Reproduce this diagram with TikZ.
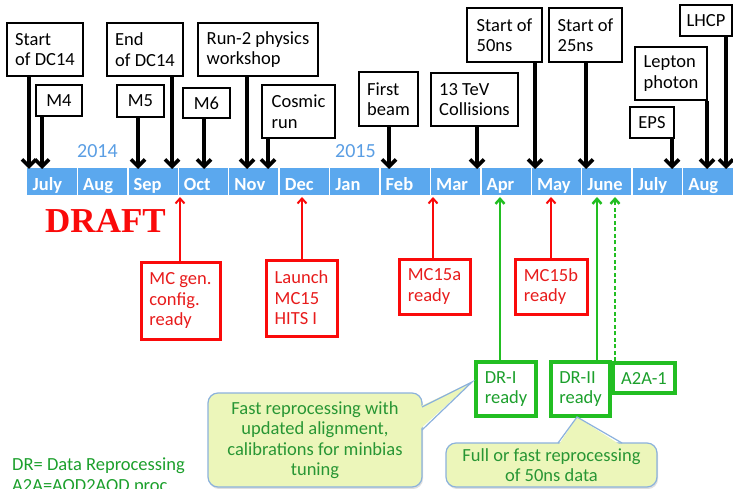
\documentclass[tikz,border=0pt]{standalone}
\usepackage{fontspec}
\setmainfont{Carlito}
\newfontfamily\draftfont{Liberation Serif}
\usetikzlibrary{arrows.meta,shadows}

\definecolor{barblue}{RGB}{91,168,238}
\definecolor{yearblue}{RGB}{90,158,228}
\definecolor{mcred}{RGB}{250,10,10}
\definecolor{mctext}{RGB}{232,28,28}
\definecolor{drgreen}{RGB}{34,190,34}
\definecolor{drtext}{RGB}{28,160,44}
\definecolor{callfill}{RGB}{236,246,186}
\definecolor{callline}{RGB}{140,178,220}
\definecolor{calltext}{RGB}{40,150,52}

\newcommand\evfont{\fontsize{18.5}{20.5}\selectfont}

% box node given by its corners (x1,y1)-(x2,y2)
\newcommand\eventbox[7]{%
  \pgfmathsetmacro\evcx{(#3+#5)/2}%
  \pgfmathsetmacro\evcy{(#4+#6)/2}%
  \pgfmathsetmacro\evw{#5-#3}%
  \pgfmathsetmacro\evh{#6-#4}%
  \node[#1, minimum width=\evw pt, minimum height=\evh pt] (#2) at (\evcx,\evcy) {#7};%
}

\tikzset{
  evbox/.style={draw, align=left, inner sep=0pt, font=\evfont},
  blackbox/.style={evbox, draw=black, text=black, line width=2.5pt},
  redbox/.style={evbox, draw=mcred, text=mctext, line width=3pt},
  greenbox/.style={evbox, draw=drgreen, text=drtext, line width=3.5pt},
  blackarrow/.style={line width=3.6pt, -{Straight Barb[length=7pt,width=14pt]}},
  redarrow/.style={draw=mcred, line width=2pt, -{Straight Barb[length=5pt,width=9pt]}},
  greenarrow/.style={draw=drgreen, line width=2.5pt, -{Straight Barb[length=5pt,width=9pt]}},
  monthtext/.style={text=white, font=\fontsize{18.5}{20}\selectfont\bfseries, inner sep=0pt},
  yeartext/.style={text=yearblue, font=\fontsize{20}{22}\selectfont, inner sep=0pt},
  callbox/.style={fill=callfill, draw=callline, line width=1.2pt, rounded corners=10pt,
    align=center, text=calltext, font=\evfont, inner sep=0pt,
    drop shadow={opacity=0.25, shadow xshift=1pt, shadow yshift=-2pt}},
  callwedge/.style={draw=callline, line width=1.2pt},
  legendtext/.style={text=drtext, font=\evfont, inner sep=0pt},
}

\begin{document}
\begin{tikzpicture}[x=1pt, y=-1pt]
\useasboundingbox (0,0) rectangle (733,489);
\clip (0,0) rectangle (733,489);
\fill[white] (0,0) rectangle (733,489);

% month bar
\fill[barblue] (27,168) rectangle (740,195);
\foreach \i/\m in {0/July,1/Aug,2/Sep,3/Oct,4/Nov,5/Dec,6/Jan,7/Feb,8/Mar,9/Apr,10/May,11/June,12/July,13/Aug}{
  \pgfmathsetmacro\xa{27+\i*50.43}
  \ifnum\i>0 \draw[white, line width=1.5pt] (\xa,168) -- (\xa,195); \fi
  \node[monthtext, anchor=base west] (m\i) at (\xa+5.5,190.5) {\m};
}
\node[yeartext, anchor=base west] (y14) at (77,158) {2014};
\node[yeartext, anchor=base west] (y15) at (335,158) {2015};

% milestones above the bar
\eventbox{blackbox}{b1}{7}{23}{83}{76}{Start\\of DC14}
\eventbox{blackbox}{b2}{36}{85}{82}{116}{M4}
\eventbox{blackbox}{b3}{107}{23}{183}{76}{End\\of DC14}
\eventbox{blackbox}{b4}{117}{85}{164}{117}{M5}
\eventbox{blackbox}{b5}{183}{88}{230}{118}{M6}
\eventbox{blackbox}{b6}{198}{23}{318}{76}{Run-2 physics\\workshop}
\eventbox{blackbox}{b7}{262}{85}{335}{138}{Cosmic\\run}
\eventbox{blackbox}{b8}{359}{72}{418}{126}{First\\beam}
\eventbox{blackbox}{b9}{431}{73}{518}{126}{13 TeV\\Collisions}
\eventbox{blackbox}{b10}{467}{8}{542}{62}{Start of\\50ns}
\eventbox{blackbox}{b11}{549}{8}{622}{62}{Start of\\25ns}
\eventbox{blackbox}{b12}{630}{107}{674}{138}{EPS}
\eventbox{blackbox}{b13}{635}{47}{707}{100}{Lepton\\photon}
\eventbox{blackbox}{b14}{680}{5}{732}{36}{LHCP}

\foreach \n/\x in {1/29,2/42,3/172,4/138,5/204,6/247,7/268,8/389,9/477,10/535,11/586,12/672,13/707,14/726}{
  \coordinate (t\n) at (\x,169);
  \draw[blackarrow] (b\n.south -| t\n) -- (t\n);
}

% MC production milestones
\node[text=mcred, font=\draftfont\fontsize{35}{40}\selectfont\bfseries, inner sep=0pt, anchor=base] (draft) at (105.5,232) {DRAFT};
\eventbox{redbox}{r1}{141}{262}{220}{339}{MC gen.\\config.\\ready}
\eventbox{redbox}{r2}{266}{260}{337}{336}{Launch\\MC15\\HITS I}
\eventbox{redbox}{r3}{399}{259}{470}{314}{MC15a\\ready}
\eventbox{redbox}{r4}{515}{259}{587}{314}{MC15b\\ready}
\foreach \n/\x in {1/180,2/302,3/433,4/551}{
  \coordinate (rt\n) at (\x,197);
  \draw[redarrow] (r\n.north -| rt\n) -- (rt\n);
}

% data reprocessing milestones
\eventbox{greenbox}{g1}{476}{362}{536}{416}{DR-I\\ready}
\eventbox{greenbox}{g2}{551}{362}{610}{416}{DR-II\\ready}
\eventbox{greenbox}{g3}{613}{363}{675}{393}{A2A-1}
\coordinate (gt1) at (500,197);
\coordinate (gt2) at (597,197);
\coordinate (gt3) at (615,197);
\draw[greenarrow] (g1.north -| gt1) -- (gt1);
\draw[greenarrow] (g2.north -| gt2) -- (gt2);
\draw[greenarrow, dash pattern=on 4pt off 2.5pt] (g3.north -| gt3) -- (gt3);

% callouts
\node[callbox, minimum width=214pt, minimum height=94pt] (c1) at (315,440)
  {Fast reprocessing with\\updated alignment,\\calibrations for minbias\\tuning};
\coordinate (c1tip) at (472,382);
\fill[callfill] (419,407) -- (c1tip) -- (419,430) -- cycle;
\draw[callwedge] (422,407) -- (c1tip) -- (422,430);

\node[callbox, minimum width=211pt, minimum height=44pt] (c2) at (551.5,465)
  {Full or fast reprocessing\\of 50ns data};
\coordinate (c2tip) at (577,417);
\fill[callfill] (558,446) -- (c2tip) -- (622,446) -- cycle;
\draw[callwedge] (558,443) -- (c2tip) -- (622,443);

% legend
\node[legendtext, anchor=base west] (leg1) at (12,470) {DR= Data Reprocessing};
\node[legendtext, anchor=base west] (leg2) at (12,491) {A2A=AOD2AOD proc.};
\end{tikzpicture}
\end{document}
